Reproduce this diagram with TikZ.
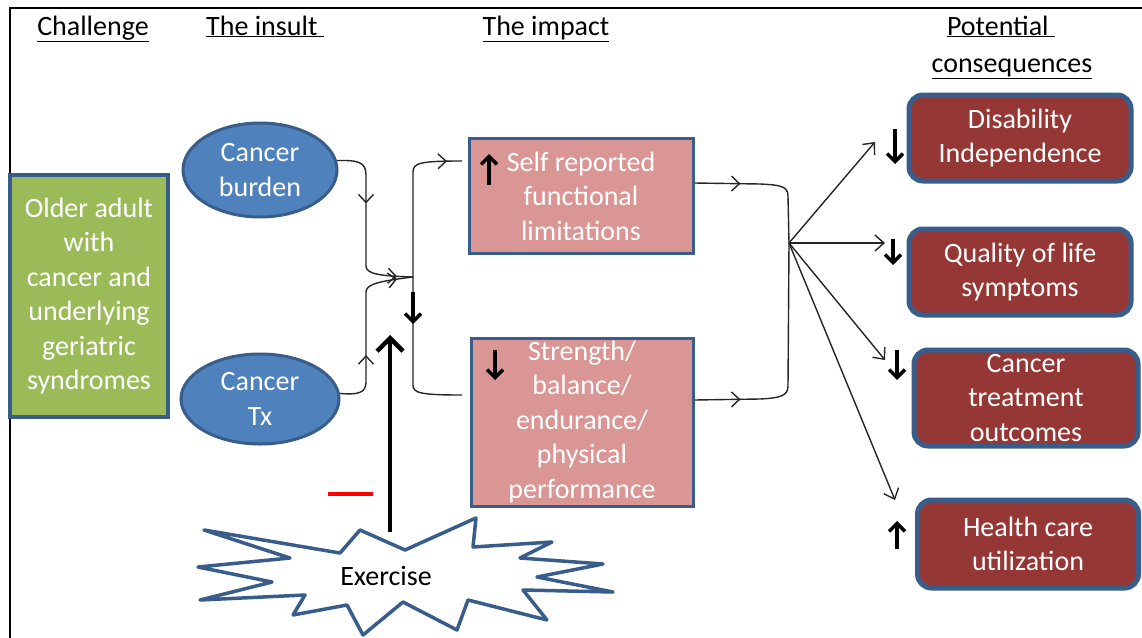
\documentclass[tikz,border=0pt]{standalone}
\usepackage{fontspec}
\setmainfont{Carlito}
\usetikzlibrary{arrows.meta,decorations.markings,shapes.geometric,calc}
\definecolor{gfill}{HTML}{9BBB59}
\definecolor{bfill}{HTML}{4F81BD}
\definecolor{bline}{HTML}{385D8A}
\definecolor{pfill}{HTML}{D99694}
\definecolor{rfill}{HTML}{953735}
\tikzset{midtip/.tip={Straight Barb[length=8pt,width=15pt]}}
\begin{document}
\begin{tikzpicture}[x=1pt,y=-1pt,
  txt/.style={font=\fontsize{28}{34.5}\selectfont, align=center, inner sep=0pt},
  head/.style={txt, anchor=base},
  greenbox/.style={txt, rectangle, fill=gfill, draw=bline, line width=4pt, text=white},
  oval/.style={txt, ellipse, fill=bfill, draw=bline, line width=3pt, text=white},
  pinkbox/.style={txt, rectangle, fill=pfill, draw=bline, line width=3pt, text=white},
  redbox/.style={txt, rectangle, rounded corners=14pt, fill=rfill, draw=bline, line width=5pt, text=white},
  conn/.style={line width=1.4pt, black!85},
  tipopen/.style={-{Straight Barb[length=9pt,width=16pt]}},
  boldarrow/.style={line width=3.4pt, -{Straight Barb[length=8pt,width=16pt]}},
]
\useasboundingbox (0,0) rectangle (1142,637);
\fill[white] (0,0) rectangle (1142,637);
% frame
\draw[line width=1.5pt] (1170,8) -- (10,8) -- (10,680);

% headings
\node[head] (h1) at (93,35) {\underline{Challenge}};
\node[head] (h2) at (265,35) {\underline{The insult~}};
\node[head] (h3) at (546,35) {\underline{The impact}};
\node[head] (h4) at (1001,35) {\underline{Potential~}};
\node[head] (h5) at (1012,72) {\underline{consequences}};

% main nodes
\node[greenbox, minimum width=158pt, minimum height=242pt] (older) at (89,296)
  {Older adult\\with\\cancer and\\underlying\\geriatric\\syndromes};
\node[oval, minimum width=154pt, minimum height=94pt] (burden) at (260,170) {Cancer\\burden};
\node[oval, minimum width=158pt, minimum height=90pt] (tx) at (260,399) {Cancer\\Tx};
\node[pinkbox, minimum width=224pt, minimum height=115pt] (pink1) at (581,196)
  {Self reported\\functional\\limitations};
\node[pinkbox, minimum width=222pt, minimum height=168pt] (pink2) at (582,422)
  {Strength/\\balance/\\endurance/\\physical\\performance};
\node[redbox, minimum width=222pt, minimum height=86pt] (r1) at (1020,138) {Disability\\Independence};
\node[redbox, minimum width=222pt, minimum height=86pt] (r2) at (1020,272) {Quality of life\\symptoms};
\node[redbox, minimum width=224pt, minimum height=96pt] (r3) at (1026,398) {Cancer\\treatment\\outcomes};
\node[redbox, minimum width=221pt, minimum height=88pt] (r4) at (1028,544) {Health care\\utilization};

% exercise star
\draw[fill=white, draw=bline, line width=3.5pt, line join=round]
  (204,530) -- (340,553) -- (360,530) -- (405,550) -- (476,518) -- (473,547) --
  (552,542) -- (520,558) -- (603,564) -- (537,577) -- (613,592) -- (523,590) --
  (547,620) -- (468,600) -- (457,630) -- (403,602) -- (363,635) -- (347,605) --
  (293,615) -- (305,595) -- (200,600) -- (272,582) -- (198,567) -- (290,558) -- cycle;
\node[txt, text=black, font=\fontsize{28}{34}\selectfont] (ex) at (386,576) {Exercise};
\coordinate (extop) at (390,532);
\coordinate (extip) at (390,335);
\draw[line width=4.5pt, -{Straight Barb[length=13pt,width=26pt]}] (extop) -- (extip);
\draw[red, line width=3.5pt] (328,494) -- (373,494);

% left connectors
\coordinate (j) at (413,277);
\coordinate (p1in) at (462,161);
\coordinate (p2in) at (462,395);
\draw[conn, postaction={decorate}, decoration={markings,
    mark=at position 66pt with {\arrow{midtip}},
    mark=at position -16pt with {\arrow{midtip}}}]
  (burden.7) .. controls (358,160) and (366,162) .. (366,175) -- (366,266)
  .. controls (366,274) and (380,276) .. (j);
\draw[conn, postaction={decorate}, decoration={markings,
    mark=at position 60pt with {\arrow{midtip}},
    mark=at position -16pt with {\arrow{midtip}}}]
  (tx.4) .. controls (358,395) and (366,393) .. (366,382) -- (366,292)
  .. controls (366,284) and (380,281) .. (j);
\draw[conn, postaction={decorate}, decoration={markings,
    mark=at position -15pt with {\arrow{midtip}}}]
  (j) -- (413,172) .. controls (413,163) and (420,161) .. (p1in);
\draw[conn] (j) -- (413,385) .. controls (413,393) and (420,395) .. (p2in);
\draw[boldarrow] (413,292) -- (413,324);

% right connectors
\coordinate (fan) at (789,243);
\draw[conn, postaction={decorate}, decoration={markings,
    mark=at position 46pt with {\arrow{midtip}}}]
  ([yshift=13pt]pink1.east) -- (760,184) .. controls (780,185) and (788,186) .. (788,196) -- (fan);
\draw[conn, postaction={decorate}, decoration={markings,
    mark=at position 46pt with {\arrow{midtip}}}]
  ([yshift=22pt]pink2.east) -- (760,399) .. controls (780,398) and (788,396) .. (788,386) -- (fan);
\coordinate (e1) at (875,142);
\coordinate (e2) at (885,243);
\coordinate (e3) at (885,360);
\coordinate (e4) at (895,500);
\draw[conn, tipopen] (fan) -- (e1);
\draw[conn, tipopen] (fan) -- (e2);
\draw[conn, tipopen] (fan) -- (e3);
\draw[conn, tipopen] (fan) -- (e4);

% small bold arrows
\draw[boldarrow] (489,185) -- (489,154);
\draw[boldarrow] (495,350) -- (495,380);
\draw[boldarrow] (895,129) -- (895,164);
\draw[boldarrow] (893,239) -- (893,265);
\draw[boldarrow] (897,350) -- (897,380);
\draw[boldarrow] (897,549) -- (897,521);
\end{tikzpicture}
\end{document}
